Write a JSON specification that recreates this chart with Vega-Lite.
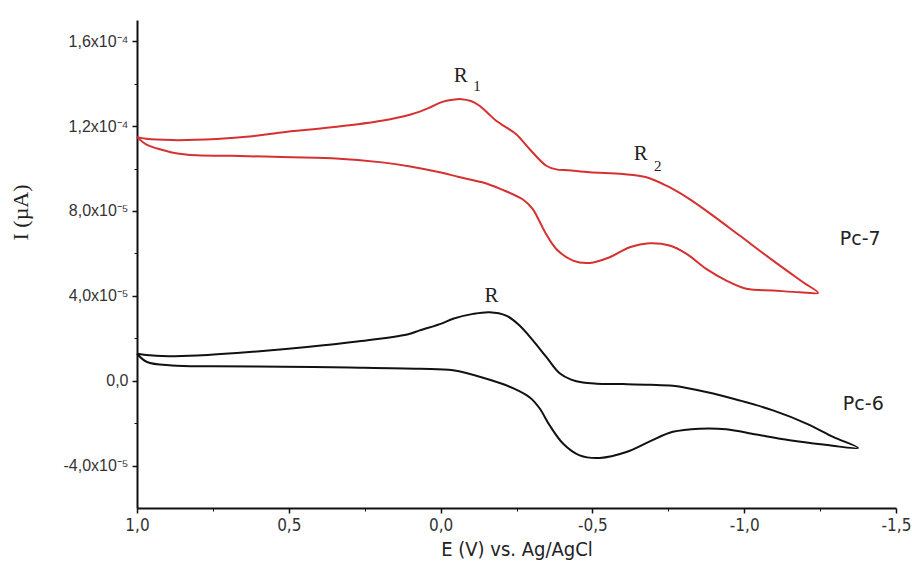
{
  "$schema": "https://vega.github.io/schema/vega-lite/v6.json",
  "autosize": {"type": "none"},
  "padding": {"left": 137, "top": 20, "right": 16, "bottom": 75},
  "width": 759,
  "height": 488,
  "background": "white",
  "config": {"view": {"stroke": null}, "axis": {"grid": false}},
  "datasets": {
    "cv": [
      {"s": "Pc-7", "i": 1, "E": 1.0, "I": 1.148e-4},
      {"s": "Pc-7", "i": 2, "E": 0.97, "I": 1.14e-4},
      {"s": "Pc-7", "i": 3, "E": 0.885, "I": 1.134e-4},
      {"s": "Pc-7", "i": 4, "E": 0.738, "I": 1.139e-4},
      {"s": "Pc-7", "i": 5, "E": 0.62, "I": 1.152e-4},
      {"s": "Pc-7", "i": 6, "E": 0.524, "I": 1.17e-4},
      {"s": "Pc-7", "i": 7, "E": 0.359, "I": 1.194e-4},
      {"s": "Pc-7", "i": 8, "E": 0.194, "I": 1.225e-4},
      {"s": "Pc-7", "i": 9, "E": 0.096, "I": 1.256e-4},
      {"s": "Pc-7", "i": 10, "E": 0.04, "I": 1.285e-4},
      {"s": "Pc-7", "i": 11, "E": -0.003, "I": 1.313e-4},
      {"s": "Pc-7", "i": 12, "E": -0.04, "I": 1.324e-4},
      {"s": "Pc-7", "i": 13, "E": -0.069, "I": 1.327e-4},
      {"s": "Pc-7", "i": 14, "E": -0.1, "I": 1.318e-4},
      {"s": "Pc-7", "i": 15, "E": -0.128, "I": 1.296e-4},
      {"s": "Pc-7", "i": 16, "E": -0.155, "I": 1.262e-4},
      {"s": "Pc-7", "i": 17, "E": -0.183, "I": 1.225e-4},
      {"s": "Pc-7", "i": 18, "E": -0.216, "I": 1.194e-4},
      {"s": "Pc-7", "i": 19, "E": -0.249, "I": 1.162e-4},
      {"s": "Pc-7", "i": 20, "E": -0.293, "I": 1.092e-4},
      {"s": "Pc-7", "i": 21, "E": -0.348, "I": 1.013e-4},
      {"s": "Pc-7", "i": 22, "E": -0.381, "I": 9.96e-5},
      {"s": "Pc-7", "i": 23, "E": -0.42, "I": 9.92e-5},
      {"s": "Pc-7", "i": 24, "E": -0.491, "I": 9.82e-5},
      {"s": "Pc-7", "i": 25, "E": -0.601, "I": 9.74e-5},
      {"s": "Pc-7", "i": 26, "E": -0.678, "I": 9.59e-5},
      {"s": "Pc-7", "i": 27, "E": -0.744, "I": 9.19e-5},
      {"s": "Pc-7", "i": 28, "E": -0.82, "I": 8.56e-5},
      {"s": "Pc-7", "i": 29, "E": -0.897, "I": 7.78e-5},
      {"s": "Pc-7", "i": 30, "E": -0.985, "I": 6.84e-5},
      {"s": "Pc-7", "i": 31, "E": -1.095, "I": 5.66e-5},
      {"s": "Pc-7", "i": 32, "E": -1.194, "I": 4.64e-5},
      {"s": "Pc-7", "i": 33, "E": -1.243, "I": 4.14e-5},
      {"s": "Pc-7", "i": 34, "E": -1.183, "I": 4.17e-5},
      {"s": "Pc-7", "i": 35, "E": -1.095, "I": 4.25e-5},
      {"s": "Pc-7", "i": 36, "E": -1.007, "I": 4.33e-5},
      {"s": "Pc-7", "i": 37, "E": -0.941, "I": 4.72e-5},
      {"s": "Pc-7", "i": 38, "E": -0.875, "I": 5.27e-5},
      {"s": "Pc-7", "i": 39, "E": -0.81, "I": 5.98e-5},
      {"s": "Pc-7", "i": 40, "E": -0.754, "I": 6.37e-5},
      {"s": "Pc-7", "i": 41, "E": -0.689, "I": 6.48e-5},
      {"s": "Pc-7", "i": 42, "E": -0.623, "I": 6.29e-5},
      {"s": "Pc-7", "i": 43, "E": -0.557, "I": 5.82e-5},
      {"s": "Pc-7", "i": 44, "E": -0.491, "I": 5.55e-5},
      {"s": "Pc-7", "i": 45, "E": -0.436, "I": 5.66e-5},
      {"s": "Pc-7", "i": 46, "E": -0.381, "I": 6.21e-5},
      {"s": "Pc-7", "i": 47, "E": -0.348, "I": 6.9e-5},
      {"s": "Pc-7", "i": 48, "E": -0.326, "I": 7.5e-5},
      {"s": "Pc-7", "i": 49, "E": -0.303, "I": 8.1e-5},
      {"s": "Pc-7", "i": 50, "E": -0.27, "I": 8.55e-5},
      {"s": "Pc-7", "i": 51, "E": -0.2, "I": 9.02e-5},
      {"s": "Pc-7", "i": 52, "E": -0.137, "I": 9.35e-5},
      {"s": "Pc-7", "i": 53, "E": -0.06, "I": 9.6e-5},
      {"s": "Pc-7", "i": 54, "E": -0.005, "I": 9.8e-5},
      {"s": "Pc-7", "i": 55, "E": 0.1, "I": 1.01e-4},
      {"s": "Pc-7", "i": 56, "E": 0.193, "I": 1.029e-4},
      {"s": "Pc-7", "i": 57, "E": 0.358, "I": 1.048e-4},
      {"s": "Pc-7", "i": 58, "E": 0.55, "I": 1.055e-4},
      {"s": "Pc-7", "i": 59, "E": 0.687, "I": 1.06e-4},
      {"s": "Pc-7", "i": 60, "E": 0.802, "I": 1.062e-4},
      {"s": "Pc-7", "i": 61, "E": 0.885, "I": 1.076e-4},
      {"s": "Pc-7", "i": 62, "E": 0.935, "I": 1.095e-4},
      {"s": "Pc-7", "i": 63, "E": 0.967, "I": 1.111e-4},
      {"s": "Pc-7", "i": 64, "E": 1.0, "I": 1.148e-4},
      {"s": "Pc-6", "i": 1, "E": 1.0, "I": 1.27e-5},
      {"s": "Pc-6", "i": 2, "E": 0.96, "I": 1.2e-5},
      {"s": "Pc-6", "i": 3, "E": 0.918, "I": 1.16e-5},
      {"s": "Pc-6", "i": 4, "E": 0.802, "I": 1.19e-5},
      {"s": "Pc-6", "i": 5, "E": 0.605, "I": 1.38e-5},
      {"s": "Pc-6", "i": 6, "E": 0.44, "I": 1.59e-5},
      {"s": "Pc-6", "i": 7, "E": 0.275, "I": 1.85e-5},
      {"s": "Pc-6", "i": 8, "E": 0.11, "I": 2.18e-5},
      {"s": "Pc-6", "i": 9, "E": 0.069, "I": 2.37e-5},
      {"s": "Pc-6", "i": 10, "E": -0.005, "I": 2.7e-5},
      {"s": "Pc-6", "i": 11, "E": -0.041, "I": 2.92e-5},
      {"s": "Pc-6", "i": 12, "E": -0.107, "I": 3.15e-5},
      {"s": "Pc-6", "i": 13, "E": -0.161, "I": 3.23e-5},
      {"s": "Pc-6", "i": 14, "E": -0.216, "I": 3.07e-5},
      {"s": "Pc-6", "i": 15, "E": -0.26, "I": 2.6e-5},
      {"s": "Pc-6", "i": 16, "E": -0.304, "I": 1.9e-5},
      {"s": "Pc-6", "i": 17, "E": -0.348, "I": 1.12e-5},
      {"s": "Pc-6", "i": 18, "E": -0.392, "I": 3.5e-6},
      {"s": "Pc-6", "i": 19, "E": -0.43, "I": 5e-7},
      {"s": "Pc-6", "i": 20, "E": -0.469, "I": -9e-7},
      {"s": "Pc-6", "i": 21, "E": -0.513, "I": -1.4e-6},
      {"s": "Pc-6", "i": 22, "E": -0.601, "I": -1.6e-6},
      {"s": "Pc-6", "i": 23, "E": -0.69, "I": -1.9e-6},
      {"s": "Pc-6", "i": 24, "E": -0.765, "I": -2.4e-6},
      {"s": "Pc-6", "i": 25, "E": -0.875, "I": -5.3e-6},
      {"s": "Pc-6", "i": 26, "E": -0.985, "I": -9.3e-6},
      {"s": "Pc-6", "i": 27, "E": -1.095, "I": -1.4e-5},
      {"s": "Pc-6", "i": 28, "E": -1.205, "I": -2.02e-5},
      {"s": "Pc-6", "i": 29, "E": -1.293, "I": -2.65e-5},
      {"s": "Pc-6", "i": 30, "E": -1.375, "I": -3.17e-5},
      {"s": "Pc-6", "i": 31, "E": -1.26, "I": -3.01e-5},
      {"s": "Pc-6", "i": 32, "E": -1.15, "I": -2.81e-5},
      {"s": "Pc-6", "i": 33, "E": -1.04, "I": -2.54e-5},
      {"s": "Pc-6", "i": 34, "E": -0.941, "I": -2.29e-5},
      {"s": "Pc-6", "i": 35, "E": -0.853, "I": -2.26e-5},
      {"s": "Pc-6", "i": 36, "E": -0.765, "I": -2.41e-5},
      {"s": "Pc-6", "i": 37, "E": -0.689, "I": -2.86e-5},
      {"s": "Pc-6", "i": 38, "E": -0.612, "I": -3.36e-5},
      {"s": "Pc-6", "i": 39, "E": -0.524, "I": -3.64e-5},
      {"s": "Pc-6", "i": 40, "E": -0.458, "I": -3.52e-5},
      {"s": "Pc-6", "i": 41, "E": -0.403, "I": -2.96e-5},
      {"s": "Pc-6", "i": 42, "E": -0.359, "I": -2.1e-5},
      {"s": "Pc-6", "i": 43, "E": -0.326, "I": -1.3e-5},
      {"s": "Pc-6", "i": 44, "E": -0.295, "I": -8.0e-6},
      {"s": "Pc-6", "i": 45, "E": -0.24, "I": -3.6e-6},
      {"s": "Pc-6", "i": 46, "E": -0.151, "I": 9e-7},
      {"s": "Pc-6", "i": 47, "E": -0.041, "I": 4.9e-6},
      {"s": "Pc-6", "i": 48, "E": 0.069, "I": 5.6e-6},
      {"s": "Pc-6", "i": 49, "E": 0.3, "I": 6.2e-6},
      {"s": "Pc-6", "i": 50, "E": 0.522, "I": 6.6e-6},
      {"s": "Pc-6", "i": 51, "E": 0.75, "I": 6.8e-6},
      {"s": "Pc-6", "i": 52, "E": 0.885, "I": 7.2e-6},
      {"s": "Pc-6", "i": 53, "E": 0.967, "I": 8.8e-6},
      {"s": "Pc-6", "i": 54, "E": 1.0, "I": 1.27e-5}
    ],
    "peaks": [
      {"t": "R", "E": -0.066, "I": 1.435e-4},
      {"t": "R", "E": -0.659, "I": 1.068e-4},
      {"t": "R", "E": -0.168, "I": 4.01e-5}
    ],
    "subs": [
      {"t": "1", "E": -0.12, "I": 1.39e-4},
      {"t": "2", "E": -0.715, "I": 1.01e-4}
    ],
    "names": [
      {"t": "Pc-7", "E": -1.315, "I": 6.68e-5},
      {"t": "Pc-6", "E": -1.325, "I": -1.08e-5}
    ]
  },
  "layer": [
    {
      "data": {"name": "cv"},
      "mark": {"type": "line", "strokeWidth": 2, "clip": false, "interpolate": "catmull-rom"},
      "encoding": {
        "x": {
          "field": "E", "type": "quantitative",
          "scale": {"domain": [1.0, -1.5], "nice": false, "zero": false},
          "axis": {
            "values": [1.0, 0.5, 0, -0.5, -1.0, -1.5],
            "labelExpr": "replace(replace(format(datum.value, '.1f'), '.', ','), '−', '-')",
            "title": "E (V) vs. Ag/AgCl",
            "titleFont": "DejaVu Sans Condensed, Liberation Sans, sans-serif",
            "titleFontSize": 20, "titleFontWeight": "normal", "titleColor": "#222",
            "titlePadding": 6,
            "labelFont": "DejaVu Sans Condensed, Liberation Sans, sans-serif", "labelFontSize": 17, "labelColor": "#333",
            "labelPadding": 4, "labelFlush": false, "labelOverlap": false,
            "domainColor": "#111", "domainWidth": 2,
            "tickColor": "#111", "tickWidth": 1.5, "tickSize": 5
          }
        },
        "y": {
          "field": "I", "type": "quantitative",
          "scale": {"domain": [-6e-5, 1.7e-4], "nice": false, "zero": false},
          "axis": {
            "values": [-4e-5, 0, 4e-5, 8e-5, 1.2e-4, 1.6e-4],
            "labelExpr": "datum.value == 0 ? '0,0' : replace((abs(datum.value) > 9.9e-5 ? replace(format(datum.value / 1e-4, '.1f'), '.', ',') + 'x10⁻⁴' : replace(format(datum.value / 1e-5, '.1f'), '.', ',') + 'x10⁻⁵'), '−', '-')",
            "title": "I (µA)",
            "titleFont": "Liberation Serif", "titleFontSize": 22, "titleFontWeight": "normal", "titleColor": "#222",
            "titleX": -105, "titleY": 192,
            "labelFont": "Liberation Sans", "labelFontSize": 16, "labelColor": "#333",
            "labelPadding": 4, "labelFlush": false, "labelOverlap": false,
            "domainColor": "#111", "domainWidth": 2,
            "tickColor": "#111", "tickWidth": 1.5, "tickSize": 5
          }
        },
        "color": {
          "field": "s", "type": "nominal",
          "scale": {"domain": ["Pc-7", "Pc-6"], "range": ["#d63031", "#111111"]},
          "legend": null
        },
        "order": {"field": "i", "type": "quantitative"}
      }
    },
    {
      "data": {"name": "peaks"},
      "mark": {"type": "text", "font": "Liberation Serif", "fontSize": 21, "color": "#222", "align": "center", "baseline": "middle"},
      "encoding": {
        "x": {"field": "E", "type": "quantitative", "axis": {"values": [0.75, 0.25, -0.25, -0.75, -1.25], "labels": false, "title": null, "domain": false, "tickColor": "#111", "tickWidth": 1, "tickSize": 3, "orient": "bottom"}},
        "y": {"field": "I", "type": "quantitative", "axis": {"values": [-2e-5, 2e-5, 6e-5, 1e-4, 1.4e-4], "labels": false, "title": null, "domain": false, "tickColor": "#111", "tickWidth": 1, "tickSize": 3, "orient": "left"}},
        "text": {"field": "t"}
      }
    },
    {
      "data": {"name": "subs"},
      "mark": {"type": "text", "font": "Liberation Serif", "fontSize": 15, "color": "#222", "align": "center", "baseline": "middle"},
      "encoding": {
        "x": {"field": "E", "type": "quantitative", "axis": null},
        "y": {"field": "I", "type": "quantitative", "axis": null},
        "text": {"field": "t"}
      }
    },
    {
      "data": {"name": "names"},
      "mark": {"type": "text", "font": "DejaVu Sans", "fontSize": 19, "color": "#222", "align": "left", "baseline": "middle"},
      "encoding": {
        "x": {"field": "E", "type": "quantitative", "axis": null},
        "y": {"field": "I", "type": "quantitative", "axis": null},
        "text": {"field": "t"}
      }
    }
  ],
  "resolve": {"axis": {"x": "independent", "y": "independent"}}
}
